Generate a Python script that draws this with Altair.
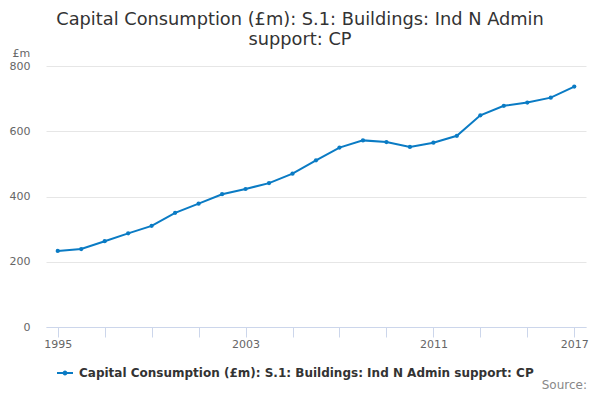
import altair as alt
import pandas as pd

years = list(range(1995, 2018))
values = [233, 239, 263, 287, 310, 350, 378, 407, 423, 441, 470,
          511, 550, 572, 567, 552, 565, 586, 649, 678, 688, 703, 737]
series_name = "Capital Consumption (£m): S.1: Buildings: Ind N Admin support: CP"
title_lines = ["Capital Consumption (£m): S.1: Buildings: Ind N Admin", "support: CP"]
x_ticks = list(range(1995, 2018, 2))
x_labels = [1995, 2003, 2011, 2017]
y_ticks = [0, 200, 400, 600, 800]

df = pd.DataFrame({"year": years, "value": values, "series": [series_name] * len(years)})

FONT = "DejaVu Sans"
BLUE = "#0a7bc4"

label_expr = "indexof([" + ",".join(str(v) for v in x_labels) + "], datum.value) >= 0 ? datum.label : ''"

legend_symbol = ("M-1,-0.14 H1 V0.14 H-1 Z "
                 "M-0.3,0 A0.3,0.3 0 1,1 0.3,0 A0.3,0.3 0 1,1 -0.3,0 Z")

base = alt.Chart(df).encode(
    x=alt.X("year:Q",
            scale=alt.Scale(domain=[1994.5, 2017.5], nice=False, zero=False),
            axis=alt.Axis(values=x_ticks, format="d", labelExpr=label_expr,
                          title=None, grid=False, domainColor="#ccd6eb",
                          tickColor="#ccd6eb", tickSize=10, labelPadding=1,
                          labelFont=FONT, labelFontSize=11, labelColor="#666666",
                          labelFlush=False, labelOverlap=False)),
    y=alt.Y("value:Q",
            scale=alt.Scale(domain=[0, 800], nice=False),
            axis=alt.Axis(values=y_ticks, title="£m", titleAngle=0,
                          titleAlign="left", titleBaseline="middle",
                          titleX=-34, titleY=-13, titleFont=FONT,
                          titleFontSize=11, titleFontWeight="normal",
                          titleColor="#666666", domain=False, ticks=False,
                          labelPadding=16, labelFont=FONT, labelFontSize=11,
                          labelColor="#666666", gridColor="#e6e6e6")),
    color=alt.Color("series:N",
                    scale=alt.Scale(range=[BLUE]),
                    legend=alt.Legend(title=None, orient="none", legendX=11,
                                      legendY=299, symbolType=legend_symbol,
                                      symbolSize=256, symbolFillColor=BLUE,
                                      symbolStrokeWidth=0, labelFont=FONT,
                                      labelFontSize=12, labelFontWeight="bold",
                                      labelColor="#333333", labelLimit=600,
                                      labelOffset=6)),
)

line = base.mark_line(strokeWidth=2)
points = base.mark_point(filled=True, size=18, opacity=1)

source = alt.Chart(pd.DataFrame({"t": ["Source:"]})).mark_text(
    font=FONT, fontSize=12, color="#888888", align="right", baseline="alphabetic"
).encode(text="t:N", x=alt.value(541), y=alt.value(323))

chart = alt.layer(line, points, source).properties(
    width=540, height=261,
    padding={"left": 38, "top": 58, "right": 6, "bottom": 65},
    autosize=alt.AutoSizeParams(type="none"),
    title=alt.TitleParams(text=title_lines, font=FONT, fontSize=17.8,
                          fontWeight="normal", color="#333333",
                          anchor="middle", frame="group", offset=-2,
                          dx=-16, lineHeight=20),
).configure_view(stroke=None)

chart.save("out.html", embed_options={"renderer": "svg", "actions": False})
